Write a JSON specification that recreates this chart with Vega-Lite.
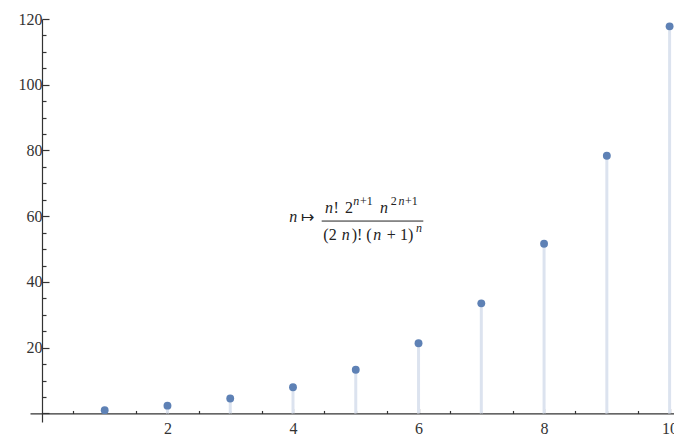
{
  "$schema": "https://vega.github.io/schema/vega-lite/v6.json",
  "width": 644,
  "height": 403,
  "autosize": {"type": "none"},
  "padding": {"left": 30, "top": 19, "right": 0, "bottom": 16},
  "background": "white",
  "config": {
    "view": {"stroke": null},
    "axis": {
      "labelFont": "Liberation Serif",
      "labelFontSize": 16,
      "labelColor": "#333333",
      "domainColor": "#333333",
      "domainWidth": 1.2,
      "tickColor": "#333333",
      "tickWidth": 1.2,
      "grid": false,
      "title": null,
      "labelFlush": false,
      "labelOverlap": false
    },
    "text": {"font": "Liberation Serif", "color": "#222222", "align": "left", "baseline": "alphabetic"}
  },
  "datasets": {
    "pts": [
      {"n": 1, "v": 1.0},
      {"n": 2, "v": 2.37},
      {"n": 3, "v": 4.556},
      {"n": 4, "v": 7.989},
      {"n": 5, "v": 13.29},
      {"n": 6, "v": 21.36},
      {"n": 7, "v": 33.50},
      {"n": 8, "v": 51.61},
      {"n": 9, "v": 78.40},
      {"n": 10, "v": 117.77}
    ],
    "mainItalic": [
      {"x": 3.941, "y": 58.22, "t": "n"},
      {"x": 4.510, "y": 60.87, "t": "n"},
      {"x": 5.386, "y": 60.87, "t": "n"},
      {"x": 4.776, "y": 52.74, "t": "n"},
      {"x": 5.279, "y": 52.74, "t": "n"}
    ],
    "mainUpright": [
      {"x": 4.123, "y": 58.22, "t": "↦"},
      {"x": 4.645, "y": 60.87, "t": "!"},
      {"x": 4.828, "y": 60.87, "t": "2"},
      {"x": 4.483, "y": 52.74, "t": "(2"},
      {"x": 4.935, "y": 52.74, "t": ")! ("},
      {"x": 5.492, "y": 52.74, "t": "+"},
      {"x": 5.704, "y": 52.74, "t": "1)"}
    ],
    "supItalic": [
      {"x": 4.960, "y": 63.40, "t": "n"},
      {"x": 5.680, "y": 63.40, "t": "n"},
      {"x": 5.960, "y": 55.09, "t": "n"}
    ],
    "supUpright": [
      {"x": 5.067, "y": 63.40, "t": "+1"},
      {"x": 5.556, "y": 63.40, "t": "2"},
      {"x": 5.784, "y": 63.40, "t": "+1"}
    ],
    "bar": [{"x": 4.457, "x2": 6.076, "y": 58.53}]
  },
  "resolve": {"axis": {"x": "independent", "y": "independent"}},
  "layer": [
    {
      "data": {"name": "pts"},
      "mark": {"type": "rule", "strokeWidth": 3, "color": "#dce3ef"},
      "encoding": {
        "x": {
          "field": "n",
          "type": "quantitative",
          "scale": {"domain": [-0.19, 10.07], "nice": false, "zero": false},
          "axis": {
            "orient": "bottom",
            "offset": -8.54,
            "values": [2, 4, 6, 8, 10],
            "tickSize": -5,
            "labelPadding": 12
          }
        },
        "y": {
          "field": "v",
          "type": "quantitative",
          "scale": {"domain": [-2.6, 120], "nice": false, "zero": false},
          "axis": {
            "orient": "left",
            "offset": -12,
            "values": [0, 20, 40, 60, 80, 100, 120],
            "labelExpr": "datum.value == 0 ? '' : datum.label",
            "tickSize": -7,
            "labelPadding": 7
          }
        },
        "y2": {"datum": 0}
      }
    },
    {
      "data": {"name": "pts"},
      "mark": {"type": "circle", "size": 62, "color": "#5e81b5", "opacity": 1},
      "encoding": {
        "x": {
          "field": "n",
          "type": "quantitative",
          "axis": {
            "orient": "bottom",
            "offset": -8.54,
            "values": [0.5, 1, 1.5, 2.5, 3, 3.5, 4.5, 5, 5.5, 6.5, 7, 7.5, 8.5, 9, 9.5],
            "tickSize": -3,
            "labels": false,
            "domain": false
          }
        },
        "y": {
          "field": "v",
          "type": "quantitative",
          "axis": {
            "orient": "left",
            "offset": -12,
            "values": [5, 10, 15, 25, 30, 35, 45, 50, 55, 65, 70, 75, 85, 90, 95, 105, 110, 115],
            "tickSize": -4,
            "labels": false,
            "domain": false
          }
        }
      }
    },
    {
      "data": {"name": "mainItalic"},
      "mark": {"type": "text", "fontSize": 16, "fontStyle": "italic"},
      "encoding": {
        "x": {"field": "x", "type": "quantitative", "axis": null},
        "y": {"field": "y", "type": "quantitative", "axis": null},
        "text": {"field": "t"}
      }
    },
    {
      "data": {"name": "mainUpright"},
      "mark": {"type": "text", "fontSize": 16},
      "encoding": {
        "x": {"field": "x", "type": "quantitative", "axis": null},
        "y": {"field": "y", "type": "quantitative", "axis": null},
        "text": {"field": "t"}
      }
    },
    {
      "data": {"name": "supItalic"},
      "mark": {"type": "text", "fontSize": 12, "fontStyle": "italic"},
      "encoding": {
        "x": {"field": "x", "type": "quantitative", "axis": null},
        "y": {"field": "y", "type": "quantitative", "axis": null},
        "text": {"field": "t"}
      }
    },
    {
      "data": {"name": "supUpright"},
      "mark": {"type": "text", "fontSize": 12},
      "encoding": {
        "x": {"field": "x", "type": "quantitative", "axis": null},
        "y": {"field": "y", "type": "quantitative", "axis": null},
        "text": {"field": "t"}
      }
    },
    {
      "data": {"name": "bar"},
      "mark": {"type": "rule", "color": "#222222", "strokeWidth": 1},
      "encoding": {
        "x": {"field": "x", "type": "quantitative", "axis": null},
        "x2": {"field": "x2"},
        "y": {"field": "y", "type": "quantitative", "axis": null}
      }
    }
  ]
}
